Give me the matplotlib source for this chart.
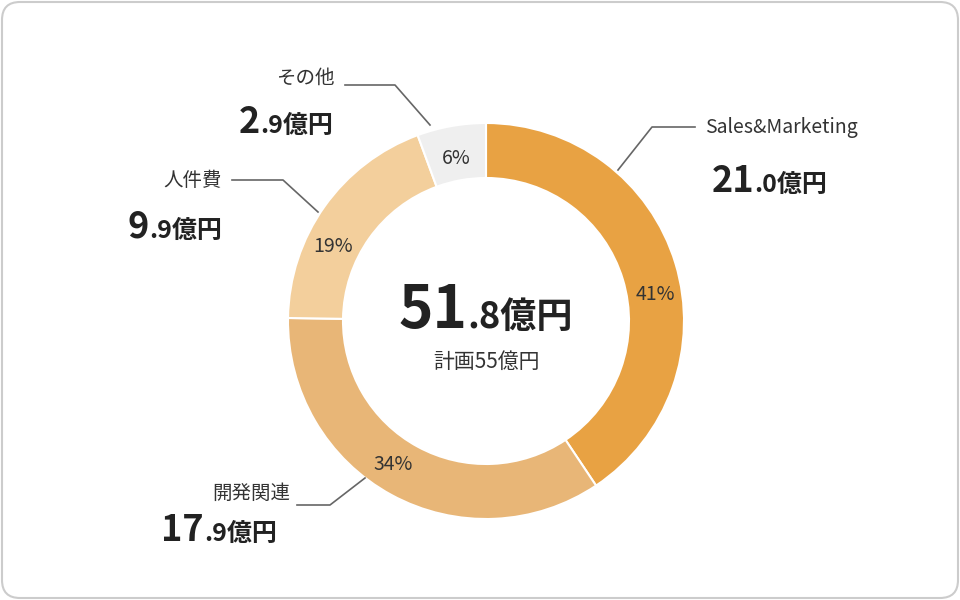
import matplotlib
matplotlib.use("Agg")
import matplotlib.pyplot as plt
from matplotlib.patches import FancyBboxPatch

plt.rcParams['font.family'] = ['Noto Sans CJK JP', 'DejaVu Sans']

categories = ["Sales&Marketing", "開発関連", "人件費", "その他"]
values = [21.0, 17.9, 9.9, 2.9]
percents = ["41%", "34%", "19%", "6%"]
colors = ["#E8A243", "#E8B677", "#F3CF9C", "#EFEFEF"]
total_label = ("51", ".8億円")
plan_label = "計画55億円"

H = 600
fig = plt.figure(figsize=(9.6, 6), dpi=100)
ax = fig.add_axes([0, 0, 1, 1])
ax.set_xlim(0, 960); ax.set_ylim(0, 600); ax.axis('off')
ax.add_patch(FancyBboxPatch((2, 2), 956, 596, boxstyle="round,pad=0,rounding_size=18",
                            fc='white', ec='#cccccc', lw=1.5))

cx, cy, R = 486, H - 321, 198
ax.pie(values, colors=colors, startangle=90, counterclock=False, center=(cx, cy),
       radius=R, wedgeprops=dict(width=55, edgecolor='white', linewidth=1.5), frame=True)
ax.set_xlim(0, 960); ax.set_ylim(0, 600); ax.axis('off'); ax.set_aspect('auto')

pct_pos = [(655, 295), (393, 465), (333, 247), (456, 158)]
for (x, y), p in zip(pct_pos, percents):
    ax.text(x, H - y, p, ha='center', va='center', fontsize=14, color='#333333')

r = fig.canvas.get_renderer()
def composite(x, y, big, small, bs, ss, ha='left'):
    t1 = ax.text(0, H - y, big, fontsize=bs, fontweight='bold', color='#222222', va='baseline')
    t2 = ax.text(0, H - y, small, fontsize=ss, fontweight='bold', color='#222222', va='baseline')
    w1 = t1.get_window_extent(r).width
    w2 = t2.get_window_extent(r).width
    tot = w1 + w2
    if ha == 'left': x0 = x
    elif ha == 'right': x0 = x - tot
    else: x0 = x - tot / 2
    t1.set_x(x0); t2.set_x(x0 + w1)

def lbl(x, y, s, ha):
    ax.text(x, H - y, s, ha=ha, va='center', fontsize=14, color='#333333')

def line(pts):
    ax.plot([p[0] for p in pts], [H - p[1] for p in pts], color='#666666', lw=1.2)

# Sales
line([(618, 170), (652, 127), (695, 127)])
lbl(705, 127, categories[0], 'left')
composite(712, 192, "21", ".0億円", 26, 18)
# 開発関連
line([(365, 478), (330, 505), (297, 505)])
lbl(290, 493, categories[1], 'right')
composite(277, 541, "17", ".9億円", 26, 18, 'right')
# 人件費
line([(318, 212), (283, 180), (232, 180)])
lbl(222, 180, categories[2], 'right')
composite(222, 238, "9", ".9億円", 26, 18, 'right')
# その他
line([(430, 125), (395, 85), (345, 85)])
lbl(335, 78, categories[3], 'right')
composite(333, 133, "2", ".9億円", 26, 18, 'right')

composite(cx, 328, total_label[0], total_label[1], 42, 26, 'center')
ax.text(cx, H - 362, plan_label, ha='center', va='center', fontsize=15, color='#333333')

fig.savefig("out.png", dpi=100)
